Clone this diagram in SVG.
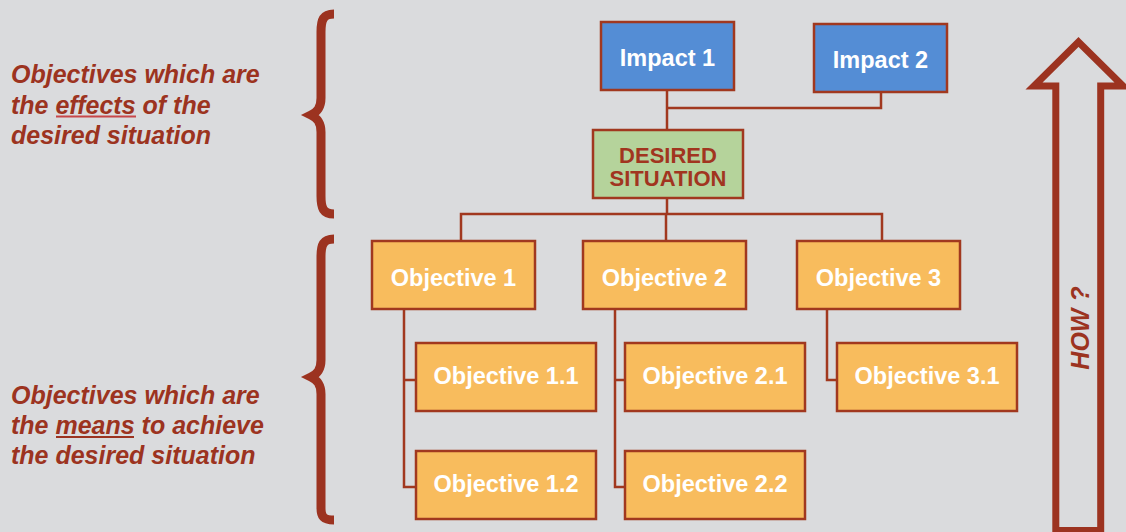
<svg xmlns="http://www.w3.org/2000/svg" width="1126" height="532" viewBox="0 0 1126 532">
<style>
.box{stroke:#a1381f;stroke-width:2.5}
.blue{fill:#548dd5}
.green{fill:#b5d39b}
.orange{fill:#f8bc5d}
.wt{font-family:"Liberation Sans",Arial,sans-serif;font-weight:bold;font-size:23.5px;fill:#ffffff;text-anchor:middle}
.rt{font-family:"Liberation Sans",Arial,sans-serif;font-weight:bold;font-size:22px;fill:#a1351f;text-anchor:middle}
.side{font-family:"Liberation Sans",Arial,sans-serif;font-weight:bold;font-style:italic;font-size:25px;fill:#9c3320}
.conn{fill:none;stroke:#a1381f;stroke-width:2.5}
.brace{fill:none;stroke:#9c3320;stroke-width:9}
</style>
<rect x="0" y="0" width="1126" height="532" fill="#dadbdd"/>

<g id="label-effects">
<text class="side" x="11" y="83">Objectives which are</text>
<text class="side" x="11" y="113.5">the effects of the</text>
<text class="side" x="11" y="144">desired situation</text>
<line x1="56" y1="116.5" x2="136" y2="116.5" stroke="#c8474a" stroke-width="2"/>
</g>
<g id="label-means">
<text class="side" x="11" y="404">Objectives which are</text>
<text class="side" x="11" y="434">the means to achieve</text>
<text class="side" x="11" y="463.5">the desired situation</text>
<line x1="56" y1="437" x2="134" y2="437" stroke="#9c3320" stroke-width="2"/>
</g>

<g id="brace-top">
<path class="brace" d="M334,14 C323,14 321,20 321,32 L321,98 C321,108 317,112 311,115 C317,118 321,122 321,132 L321,196 C321,208 323,214 334,214"/>
</g>
<g id="brace-bottom">
<path class="brace" d="M334,239 C323,239 321,245 321,257 L321,360 C321,370 317,374 311,377 C317,380 321,384 321,394 L321,508 C321,516 323,520 334,520"/>
</g>

<g id="connectors">
<path class="conn" d="M667,90 V130 M667,108 H881 V92"/>
<path class="conn" d="M667,198 V214 M461,241 V214 H882 V241 M666,214 V241"/>
<path class="conn" d="M404,309 V487 H416 M404,380 H416"/>
<path class="conn" d="M615,309 V487 H625 M615,380 H625"/>
<path class="conn" d="M827,309 V380 H837"/>
</g>

<g id="impact1"><rect class="box blue" x="601" y="22" width="133" height="68"/><text class="wt" x="667.5" y="66">Impact 1</text></g>
<g id="impact2"><rect class="box blue" x="814" y="24" width="133" height="68"/><text class="wt" x="880.5" y="68">Impact 2</text></g>
<g id="desired"><rect class="box green" x="593" y="130" width="150" height="68"/><text class="rt" x="668" y="163">DESIRED</text><text class="rt" x="668" y="185.5">SITUATION</text></g>
<g id="obj1"><rect class="box orange" x="372" y="241" width="163" height="68"/><text class="wt" x="453.5" y="286">Objective 1</text></g>
<g id="obj2"><rect class="box orange" x="583" y="241" width="163" height="68"/><text class="wt" x="664.5" y="286">Objective 2</text></g>
<g id="obj3"><rect class="box orange" x="797" y="241" width="163" height="68"/><text class="wt" x="878.5" y="286">Objective 3</text></g>
<g id="obj11"><rect class="box orange" x="416" y="343" width="180" height="68"/><text class="wt" x="506" y="384">Objective 1.1</text></g>
<g id="obj12"><rect class="box orange" x="416" y="451" width="180" height="68"/><text class="wt" x="506" y="492">Objective 1.2</text></g>
<g id="obj21"><rect class="box orange" x="625" y="343" width="180" height="68"/><text class="wt" x="715" y="384">Objective 2.1</text></g>
<g id="obj22"><rect class="box orange" x="625" y="451" width="180" height="68"/><text class="wt" x="715" y="492">Objective 2.2</text></g>
<g id="obj31"><rect class="box orange" x="837" y="343" width="180" height="68"/><text class="wt" x="927" y="384">Objective 3.1</text></g>

<g id="how-arrow">
<path d="M1078.5,42 L1123,86 L1100.7,86 L1100.7,530.5 L1055.8,530.5 L1055.8,86 L1034,86 Z" fill="none" stroke="#9c3320" stroke-width="7" stroke-linejoin="miter" stroke-miterlimit="10"/>
<text class="side" transform="translate(1089,328) rotate(-90)" text-anchor="middle">HOW ?</text>
</g>
</svg>
